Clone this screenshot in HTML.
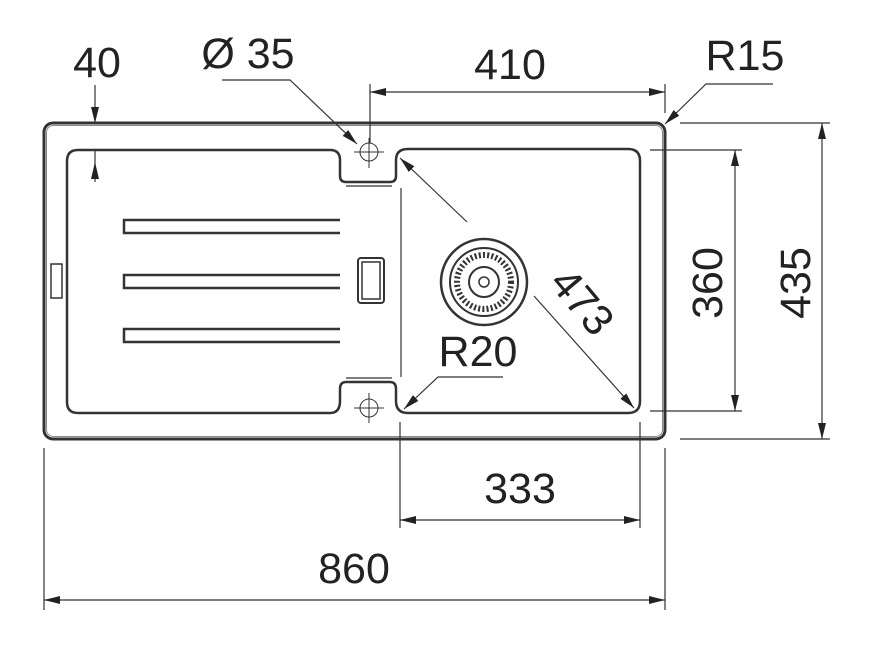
<!DOCTYPE html>
<html><head><style>
html,body{margin:0;padding:0;background:#fff;}
svg{display:block;}
text{font-family:"Liberation Sans",Arial,sans-serif;fill:#222;font-size:43px;}
</style></head><body>
<svg width="880" height="650" viewBox="0 0 880 650" xmlns="http://www.w3.org/2000/svg">
<defs>
<marker id="a" viewBox="0 0 16 8" refX="16" refY="4" markerWidth="16" markerHeight="8" markerUnits="userSpaceOnUse" orient="auto-start-reverse">
<path d="M0,0 L16,4 L0,8 z" fill="#222"/></marker>
</defs>
<g fill="none" stroke="#333">
<rect x="44" y="123" width="621" height="316" rx="9" stroke-width="3"/>
<rect x="46.5" y="125.5" width="616" height="311" rx="7" stroke-width="1" stroke="#888"/>
<path d="M78,150 H330 Q340,150 340,160 V176 Q340,182 346,182 H390 Q396,182 396,176 V160 Q396,149 408,149 H628 Q640,149 640,161 V401 Q640,413 628,413 H408 Q396,413 396,401 V389 Q396,382 390,382 H346 Q340,382 340,389 V401 Q340,413 330,413 H78 Q67,413 67,402 V161 Q67,150 78,150 Z" stroke-width="2.5"/>
<path d="M401,188 V377" stroke-width="1.2"/>
<path d="M346,186 H392 M346,378 H392" stroke-width="1.2"/>
<path d="M340,220 H124 V233 H340 M340,275 H124 V288 H340 M340,329 H124 V342 H340" stroke-width="2.5" fill="#fff"/>
<rect x="51" y="264" width="11" height="34" stroke-width="1.5"/>
<rect x="358" y="258" width="26" height="45" rx="3" stroke-width="2"/>
<rect x="362" y="262" width="18" height="37" stroke-width="1.5"/>
<circle cx="369" cy="152" r="9" stroke-width="1"/>
<path d="M354,152 H384 M369,138 V168" stroke-width="1"/>
<circle cx="369" cy="408" r="9" stroke-width="1"/>
<path d="M354,408 H384 M369,393 V423" stroke-width="1"/>
<circle cx="484" cy="282" r="43" stroke-width="2.5"/>
<circle cx="484" cy="282" r="34" stroke-width="2"/>
<circle cx="484" cy="282" r="27" stroke-width="6" stroke-dasharray="2 2.2"/>
<circle cx="484" cy="282" r="15" stroke-width="2"/>
<circle cx="484" cy="282" r="5" stroke-width="1.5"/>
</g>
<g fill="none" stroke="#333" stroke-width="1.2">
<path d="M95,85 V123" marker-end="url(#a)"/>
<path d="M95,150 V182"/>
<path d="M222,80 H290 L357,144" marker-end="url(#a)"/>
<path d="M370,84 V143 M665,84 V113"/>
<path d="M370,92 H665" marker-start="url(#a)" marker-end="url(#a)"/>
<path d="M773,84 H706 L665,124" marker-end="url(#a)"/>
<path d="M650,150 H742 M650,411 H742"/>
<path d="M735,150 V411" marker-start="url(#a)" marker-end="url(#a)"/>
<path d="M680,123 H830 M680,439 H830"/>
<path d="M822,123 V439" marker-start="url(#a)" marker-end="url(#a)"/>
<path d="M400,422 V528 M640,422 V528"/>
<path d="M400,520 H640" marker-start="url(#a)" marker-end="url(#a)"/>
<path d="M44,448 V610 M665,448 V610"/>
<path d="M44,600 H665" marker-start="url(#a)" marker-end="url(#a)"/>
<path d="M467,222 L400,158" marker-end="url(#a)"/>
<path d="M534,296 L634,408" marker-end="url(#a)"/>
<path d="M503,377 H438 L404,409" marker-end="url(#a)"/>
</g>
<polygon points="91,179 99,179 95,162" fill="#222"/>
<g text-anchor="middle">
<text x="97" y="77">40</text>
<text x="248" y="68">Ø 35</text>
<text x="510" y="79">410</text>
<text x="745" y="70">R15</text>
<text x="478" y="366">R20</text>
<text x="520" y="503">333</text>
<text x="354" y="583">860</text>
<text transform="translate(722,283) rotate(-90)">360</text>
<text transform="translate(810,283) rotate(-90)">435</text>
<text transform="translate(571,311) rotate(50)">473</text>
</g>
</svg>
</body></html>
